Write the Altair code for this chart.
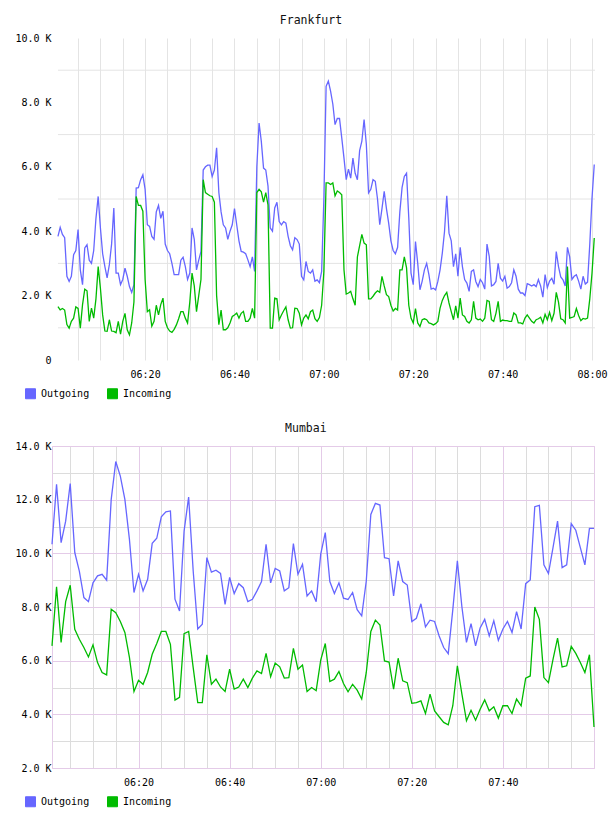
import altair as alt
import pandas as pd

# ---- series definitions -------------------------------------------------
SERIES = ["Outgoing", "Incoming"]
SERIES_COLORS = ["#6666ff", "#00bb00"]

# Frankfurt: one sample every 30 s, values in K
frankfurt_start = "2013-05-14 06:00:30"
frankfurt_end = "2013-05-14 08:00:40"
frankfurt_step = "30s"
frankfurt_outgoing = [
    3.84, 4.12, 3.9, 3.8, 2.6, 2.44, 2.6, 3.27, 3.4, 4.05,
    2.8, 2.34, 3.48, 3.58, 3.1, 3.0, 3.4, 4.4, 5.08, 4.1,
    3.3, 2.9, 2.55, 2.96, 3.6, 4.72, 2.7, 2.7, 2.34, 2.5,
    2.85, 2.6, 2.28, 2.1, 2.34, 5.34, 5.35, 5.6, 5.75, 5.3,
    4.2, 4.15, 3.84, 3.75, 4.6, 4.8, 4.4, 4.62, 3.6, 3.4,
    3.3, 3.0, 2.65, 2.65, 2.65, 3.1, 3.19, 2.9, 2.5, 2.7,
    4.1, 3.75, 2.8, 3.1, 3.37, 5.9, 6.0, 6.05, 6.05, 5.7,
    5.9, 6.59, 5.2, 4.6, 4.2, 4.1, 3.75, 4.0, 4.2, 4.7,
    4.2, 3.7, 3.37, 3.35, 3.3, 3.11, 2.9, 3.2, 2.75, 6.0,
    7.36, 6.79, 5.96, 5.9, 5.4, 4.1, 4.0, 4.72, 4.9, 4.3,
    4.2, 4.3, 4.25, 3.84, 3.55, 3.42, 3.8, 3.74, 3.6, 2.6,
    2.49, 3.06, 2.75, 2.7, 2.8, 2.45, 2.49, 2.4, 2.75, 5.0,
    8.5, 8.66, 8.35, 7.95, 7.31, 7.5, 7.5, 6.9, 6.27, 5.6,
    5.93, 5.65, 6.27, 5.8, 5.6, 6.5, 6.8, 7.47, 6.7, 5.19,
    5.3, 5.6, 5.55, 5.0, 4.2, 4.7, 5.24, 4.7, 4.25, 3.7,
    3.4, 3.3, 3.5, 4.6, 5.36, 5.7, 5.8, 4.41, 2.7, 2.34,
    3.68, 3.0, 2.18, 2.45, 2.8, 3.0, 2.65, 2.2, 2.23, 2.18,
    2.44, 2.8, 3.32, 4.0, 5.1, 3.94, 3.7, 2.9, 3.3, 2.6,
    3.5, 2.9, 2.5, 2.39, 2.13, 2.75, 2.8, 2.44, 2.28, 2.5,
    2.4, 2.2, 3.6, 3.22, 2.3, 2.34, 2.44, 3.0, 2.54, 2.45,
    2.6, 2.23, 2.28, 2.4, 2.8, 2.6, 2.2, 2.08, 2.08, 2.0,
    2.37, 2.34, 2.3, 2.34, 2.28, 2.5, 2.3, 1.95, 2.65, 2.25,
    2.45, 2.54, 2.35, 3.37, 2.9, 2.58, 2.49, 2.3, 3.5, 3.2,
    2.5, 2.6, 2.65, 2.45, 2.2, 2.6, 2.36, 2.42, 3.6, 5.03,
    6.07,
]
frankfurt_incoming = [
    1.66, 1.56, 1.6, 1.55, 1.1, 0.99, 1.2, 1.3, 1.65, 1.6,
    0.99, 1.72, 2.2, 2.15, 1.2, 1.61, 1.3, 1.9, 2.9, 2.23,
    1.4, 0.9, 0.89, 1.25, 0.9, 0.89, 0.85, 1.2, 0.8, 1.2,
    1.45, 0.94, 0.78, 1.15, 1.8, 5.08, 4.8, 4.8, 4.62, 2.5,
    1.5, 1.56, 1.05, 1.2, 1.7, 1.4, 1.72, 1.92, 1.2, 1.0,
    0.9, 0.86, 0.95, 1.09, 1.28, 1.5, 1.5, 1.3, 1.15, 1.8,
    2.7, 2.3, 1.5, 2.0, 2.5, 5.6, 5.2, 5.15, 5.1, 5.08,
    4.9, 2.0, 1.1, 1.55, 0.94, 0.94, 1.0, 1.15, 1.35, 1.4,
    1.46, 1.3, 1.45, 1.51, 1.2, 1.2, 1.3, 1.6, 1.3, 5.2,
    5.3, 5.22, 4.9, 5.2, 4.82, 0.99, 0.99, 1.92, 1.9, 1.25,
    1.4, 1.53, 1.65, 1.25, 0.99, 1.0, 1.61, 1.6, 1.45, 1.09,
    1.3, 1.4, 1.28, 1.5, 1.55, 1.28, 1.2, 1.32, 1.7, 2.75,
    5.5, 5.5, 5.45, 5.5, 5.1, 5.25, 5.2, 5.13, 2.8, 2.05,
    2.08, 2.13, 1.9, 1.7, 3.2, 3.55, 3.9, 3.63, 3.58, 1.9,
    1.9, 1.98, 2.08, 2.15, 2.1, 2.6, 2.3, 2.03, 1.97, 1.7,
    1.52, 1.6, 1.55, 2.8, 2.8, 3.2, 2.86, 1.7, 1.3, 1.15,
    1.6, 1.15, 1.04, 1.25, 1.28, 1.25, 1.15, 1.13, 1.09, 1.13,
    1.2, 1.61, 1.85, 2.0, 2.1, 1.77, 1.5, 1.25, 1.68, 1.3,
    1.92, 1.4, 1.35, 1.2, 1.15, 1.25, 1.82, 1.3, 1.25, 1.27,
    1.2, 1.3, 1.85, 1.82, 1.25, 1.2, 1.45, 1.82, 1.2, 1.24,
    1.22, 1.22, 1.2, 1.2, 1.46, 1.4, 1.15, 1.15, 1.12, 1.3,
    1.4, 1.3, 1.2, 1.15, 1.25, 1.28, 1.33, 1.15, 1.42, 1.25,
    1.48, 1.22, 1.45, 2.1, 1.8, 1.28, 1.25, 1.15, 2.9, 1.3,
    1.32, 1.35, 1.6, 1.38, 1.22, 1.29, 1.27, 1.3, 1.9, 2.7,
    3.79,
]
# Frankfurt horizontal guide lines (K)
frankfurt_guides = [1, 3, 5, 7, 9]

# Mumbai: one sample per minute, values in K
mumbai_start = "2013-05-14 06:01:00"
mumbai_step = "60s"
mumbai_outgoing = [
    10.34, 12.57, 10.4, 11.2, 12.6, 10.03, 9.34, 8.35, 8.2, 8.9,
    9.16, 9.22, 9.0, 12.01, 13.42, 12.88, 12.01, 10.52, 8.54, 9.22,
    8.6, 9.03, 10.37, 10.56, 11.36, 11.55, 11.58, 8.29, 7.85, 10.83,
    12.1, 9.34, 7.18, 7.36, 9.84, 9.3, 9.37, 9.25, 8.1, 9.1,
    8.5, 8.87, 8.72, 8.2, 8.29, 8.6, 8.95, 10.34, 8.9, 9.44,
    9.34, 8.6, 8.72, 10.36, 9.22, 9.59, 8.41, 8.6, 8.2, 9.97,
    10.77, 8.95, 8.5, 8.9, 8.33, 8.28, 8.54, 7.9, 7.67, 8.97,
    11.45, 11.86, 11.8, 9.84, 9.8, 8.41, 9.72, 8.95, 8.82, 7.46,
    7.58, 8.12, 7.26, 7.51, 7.46, 6.92, 6.49, 6.26, 7.9, 9.72,
    8.0, 6.68, 7.38, 6.55, 7.22, 7.54, 6.92, 7.49, 6.76, 7.18,
    7.46, 7.05, 7.83, 7.18, 8.87, 9.01, 11.74, 11.79, 9.57, 9.25,
    10.21, 11.2, 9.47, 9.57, 11.11, 10.86, 10.21, 9.57, 10.93, 10.93,
]
mumbai_incoming = [
    6.55, 8.75, 6.68, 8.2, 8.81, 7.17, 6.8, 6.49, 6.14, 6.59,
    5.93, 5.56, 5.47, 7.92, 7.79, 7.46, 7.05, 6.12, 4.85, 5.27,
    5.12, 5.56, 6.24, 6.64, 7.09, 7.09, 6.61, 4.53, 4.63, 7.01,
    7.09, 5.74, 4.44, 4.44, 6.22, 5.12, 5.31, 5.02, 4.85, 5.68,
    4.94, 5.02, 5.31, 5.0, 5.35, 5.62, 5.52, 6.27, 5.4, 5.91,
    5.77, 5.35, 5.37, 6.46, 5.68, 5.84, 4.85, 5.0, 4.88, 6.02,
    6.64, 5.22, 5.31, 5.6, 5.15, 4.84, 5.12, 4.9, 4.57, 5.56,
    7.09, 7.51, 7.33, 5.99, 5.95, 4.94, 6.09, 5.25, 5.18, 4.41,
    4.44, 4.5, 4.03, 4.75, 4.13, 3.91, 3.7, 3.61, 4.32, 5.81,
    4.75, 3.76, 4.15, 3.78, 4.19, 4.54, 4.13, 4.28, 3.86, 4.32,
    4.32, 4.03, 4.57, 4.32, 5.35, 5.43, 8.0, 7.54, 5.37, 5.18,
    6.05, 6.84, 5.77, 5.81, 6.53, 6.27, 5.93, 5.56, 6.22, 3.53,
]

MONO = "DejaVu Sans Mono"
GRID_GRAY = "#e4e4e4"
GRID_MINOR = "#dcdcdc"
GRID_MAJOR = "#e4cbe8"


def traffic_frame(start, step, outgoing, incoming):
    times = pd.date_range(start, periods=len(outgoing), freq=step)
    parts = [
        pd.DataFrame({"time": times, "kbytes": outgoing, "series": SERIES[0]}),
        pd.DataFrame({"time": times, "kbytes": incoming, "series": SERIES[1]}),
    ]
    return pd.concat(parts, ignore_index=True)


def hhmm(h, m, s=0):
    return alt.DateTime(year=2013, month=5, date=14, hours=h, minutes=m, seconds=s)


# vertical gridline positions: every five minutes from 06:05 to 08:00
FIVE_MINUTE_TICKS = [hhmm(6 + (m // 60), m % 60) for m in range(5, 121, 5)]

Y_LABEL = ("datum.value % 2 != 0 ? '' : "
           "(datum.value == 0 ? '0' : format(datum.value, '.1f') + ' K')")


def x_label(last_hour):
    return (f"minutes(datum.value) % 20 == 0 && hours(datum.value) <= {last_hour}"
            " ? timeFormat(datum.value, '%H:%M') : ''")


def traffic_panel(name, df, x_domain, y_domain, width, height, x_axis, y_axis, extra=()):
    color_scale = alt.Scale(domain=SERIES, range=SERIES_COLORS)
    x_enc = alt.X("time:T", title=None, scale=alt.Scale(domain=x_domain), axis=x_axis)
    y_enc = alt.Y("kbytes:Q", title=None,
                  scale=alt.Scale(domain=y_domain, nice=False, zero=False), axis=y_axis)
    base = alt.Chart(df).encode(x=x_enc, y=y_enc)
    # invisible squares carry the filled-swatch legend
    keys = base.mark_square(opacity=0).encode(
        color=alt.Color(
            "series:N", scale=color_scale,
            legend=alt.Legend(
                title=None, orient="none", legendX=-27, legendY=350,
                direction="horizontal", symbolType="square", symbolSize=100,
                symbolOpacity=1, symbolStrokeColor="#888888", symbolStrokeWidth=1,
                labelFont=MONO, labelFontSize=10, labelColor="#000000",
                labelOffset=5, columnPadding=15, padding=0,
            ),
        )
    )
    lines = base.mark_line(strokeWidth=1.3).encode(
        color=alt.Color("series:N", scale=color_scale, legend=None)
    )
    layers = [layer(x_enc, y_enc) for layer in extra] + [keys, lines]
    return alt.layer(*layers).properties(
        width=width, height=height,
        title=alt.TitleParams(name, font=MONO, fontSize=11.5, fontWeight="normal",
                              color="#111111", offset=7, anchor="middle", frame="bounds"),
    )


common_x = dict(
    values=FIVE_MINUTE_TICKS, labelFont=MONO, labelFontSize=10, labelColor="#000000",
    labelPadding=9, ticks=False, tickSize=0, domain=False, grid=True,
    labelOverlap=False, labelFlush=False,
)
common_y = dict(
    labelExpr=Y_LABEL, labelFont=MONO, labelFontSize=10, labelColor="#000000",
    labelPadding=1, ticks=False, tickSize=0, domain=False,
)


def frankfurt_guide_layer(x_enc, y_enc):
    # horizontal guides run from the first Frankfurt sample to the right edge
    guides = pd.DataFrame({
        "kbytes": frankfurt_guides,
        "time": pd.Timestamp(frankfurt_start),
        "time_end": pd.Timestamp(frankfurt_end),
    })
    return alt.Chart(guides).mark_rule(color=GRID_GRAY, strokeWidth=1).encode(
        x=x_enc, x2=alt.X2("time_end:T"), y=y_enc,
    )


frankfurt = traffic_panel(
    "Frankfurt",
    traffic_frame(frankfurt_start, frankfurt_step, frankfurt_outgoing, frankfurt_incoming),
    [hhmm(5, 59, 10), hhmm(8, 0, 40)], [0, 10], 543, 322,
    alt.Axis(gridColor=GRID_GRAY, labelExpr=x_label(8), **common_x),
    alt.Axis(values=list(range(0, 11)), grid=False, **common_y),
    extra=(frankfurt_guide_layer,),
)

mumbai = traffic_panel(
    "Mumbai",
    traffic_frame(mumbai_start, mumbai_step, mumbai_outgoing, mumbai_incoming),
    [hhmm(6, 1), hhmm(8, 0)], [2, 14], 542, 322,
    alt.Axis(gridColor={"condition": {"test": "minutes(datum.value) % 20 == 0", "value": GRID_MAJOR},
                        "value": GRID_MINOR},
             labelExpr=x_label(7), **common_x),
    alt.Axis(values=list(range(2, 15)), grid=True,
             gridColor={"condition": {"test": "datum.value % 2 == 0", "value": GRID_MAJOR},
                        "value": GRID_MINOR},
             **common_y),
).properties(view=alt.ViewBackground(stroke=GRID_MAJOR, strokeWidth=1))

chart = (
    alt.vconcat(frankfurt, mumbai, spacing=20)
    .resolve_scale(x="independent", y="independent", color="independent")
    .resolve_legend(color="independent")
    .properties(padding={"left": 14, "top": 14, "right": 0, "bottom": 0}, background="#ffffff")
    .configure_view(stroke="transparent")
)

chart.save("out.html", embed_options={"renderer": "svg", "actions": False})
